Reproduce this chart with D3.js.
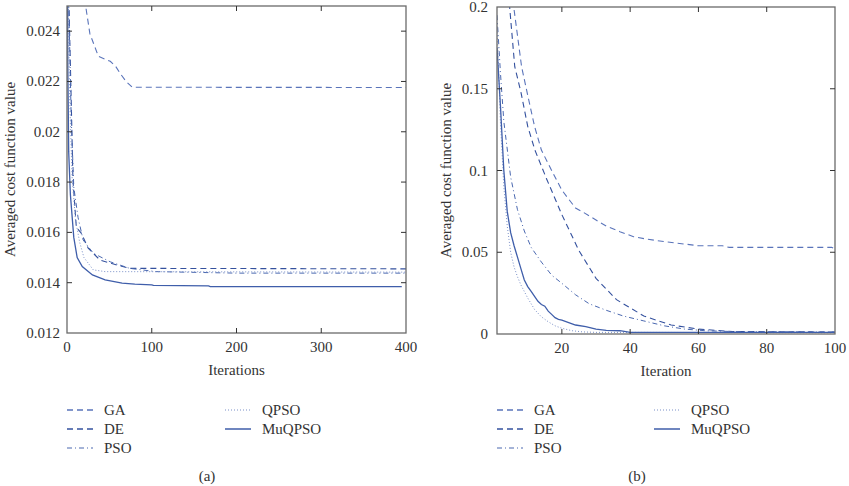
<!DOCTYPE html>
<html>
<head>
<meta charset="utf-8">
<script src="https://cdn.jsdelivr.net/npm/d3@7"></script>
<style>
  html, body { margin: 0; padding: 0; background: #fff; }
  svg text { font-family: "Liberation Serif", "DejaVu Serif", serif; fill: #333; }
</style>
</head>
<body>
<svg id="chart" width="849" height="486"></svg>
<script>
/* ── Data: [iteration, averaged cost] ─────────────────────────────────────── */

// panel (a): 400 iterations
const gaA = [[0, 0.034], [10, 0.029], [22, 0.0250], [27, 0.0239], [37, 0.0230], [51, 0.02280],
  [57, 0.02262], [64, 0.02226], [70, 0.02199], [77, 0.02177], [400, 0.02176]];
const deA = [[0, 0.032], [2, 0.0255], [5, 0.0212], [7, 0.0181], [11, 0.0162], [17, 0.01596],
  [25, 0.01537], [39, 0.0149], [59, 0.0147], [74, 0.01457], [400, 0.01455]];
const psoA = [[0, 0.031], [2, 0.0252], [5, 0.0205], [8, 0.0178], [13, 0.0166], [19, 0.0157],
  [31, 0.01517], [51, 0.01483], [74, 0.01457], [105, 0.01444], [200, 0.01438], [400, 0.01438]];
const qpsoA = [[0, 0.030], [3, 0.0215], [6, 0.0182], [10, 0.0165], [15, 0.0156], [20, 0.0150],
  [31, 0.01451], [45, 0.01444], [400, 0.01442]];
const muqpsoA = [[0, 0.032], [1, 0.0225], [2, 0.0192], [4, 0.0175], [8, 0.0158], [12, 0.0150],
  [18, 0.01464], [30, 0.01431], [45, 0.01411], [65, 0.01398], [80, 0.01394], [100, 0.01391],
  [102, 0.01389], [167, 0.01387], [169, 0.01384], [395, 0.01384]];

// panel (b): 100 iterations
const gaB = [[1, 0.32], [3, 0.25], [5.9, 0.2], [8.2, 0.1635], [10, 0.146], [12, 0.127], [14, 0.1125],
  [17, 0.1], [20, 0.088], [24, 0.077], [26, 0.0748], [30, 0.0697], [33, 0.066], [37, 0.0626],
  [41, 0.0595], [45, 0.058], [50, 0.0565], [56, 0.055], [60, 0.054], [67, 0.054], [69, 0.053],
  [99, 0.053], [100, 0.052]];
const deB = [[1, 0.3], [3, 0.235], [4.7, 0.2], [6.2, 0.1635], [8, 0.148], [10, 0.127], [12.1, 0.1125],
  [15.5, 0.095], [20, 0.073], [25, 0.051], [30, 0.034], [36, 0.021], [44, 0.011], [52, 0.0055],
  [60, 0.003], [70, 0.0015], [100, 0.0012]];
const psoB = [[1, 0.195], [2, 0.16], [3, 0.13], [5, 0.096], [7, 0.076], [9, 0.063], [11, 0.053],
  [14, 0.044], [17, 0.036], [20, 0.031], [24, 0.024], [28, 0.0185], [33, 0.0145], [38, 0.011],
  [44, 0.008], [50, 0.005], [56, 0.003], [62, 0.002], [70, 0.0015], [100, 0.0012]];
const qpsoB = [[1, 0.19], [2, 0.13], [3, 0.09], [4, 0.066], [5, 0.05], [6, 0.041], [7, 0.035],
  [8, 0.03], [9, 0.026], [10, 0.022], [12, 0.015], [14, 0.0105], [16, 0.0075], [18, 0.005],
  [20, 0.0035], [23, 0.002], [26, 0.0013], [30, 0.001], [100, 0.0008]];
const muqpsoB = [[1, 0.175], [2, 0.14], [3, 0.1], [4, 0.075], [5, 0.062], [6, 0.054], [7, 0.047],
  [8, 0.04], [9, 0.033], [10, 0.029], [11, 0.026], [12, 0.023], [13, 0.02], [14, 0.018],
  [15, 0.017], [16, 0.014], [17, 0.012], [18, 0.01], [19, 0.009], [20, 0.0085], [22, 0.007],
  [24, 0.0055], [27, 0.0045], [30, 0.003], [33, 0.0022], [37, 0.002], [40, 0.001], [100, 0.001]];

const xTicksA = [0, 100, 200, 300, 400];
const yTicksA = [0.012, 0.014, 0.016, 0.018, 0.02, 0.022, 0.024];
const xTicksB = [20, 40, 60, 80, 100];
const yTicksB = [0, 0.05, 0.1, 0.15, 0.2];

const NAMES = ["GA", "DE", "PSO", "QPSO", "MuQPSO"];

/* ── Styles ───────────────────────────────────────────────────────────────── */

const STYLE = {
  GA:     { color: "#5a74ba", dash: "6,4",      width: 1.1 },
  DE:     { color: "#34519e", dash: "6,4",      width: 1.1 },
  PSO:    { color: "#4a68b0", dash: "5,3,1,3",  width: 1.0 },
  QPSO:   { color: "#7a90c8", dash: "1,2",      width: 1.0 },
  MuQPSO: { color: "#3f5eaa", dash: null,       width: 1.3 },
};

const svg = d3.select("#chart");

/* ── Panel ────────────────────────────────────────────────────────────────── */

function drawPanel(p) {
  const x = d3.scaleLinear().domain(p.xDomain).range([p.left, p.right]);
  const y = d3.scaleLinear().domain(p.yDomain).range([p.bottom, p.top]);
  const g = svg.append("g");
  const fmt = (v) => String(+v.toFixed(4));

  g.append("clipPath").attr("id", p.id + "-clip")
    .append("rect")
    .attr("x", p.left).attr("y", p.top)
    .attr("width", p.right - p.left).attr("height", p.bottom - p.top);

  // lines
  const line = d3.line().x((d) => x(d[0])).y((d) => y(d[1]));
  const lines = g.append("g").attr("clip-path", `url(#${p.id}-clip)`);
  p.series.forEach((s, i) => {
    const st = STYLE[NAMES[i]];
    lines.append("path")
      .attr("d", line(s))
      .attr("fill", "none")
      .attr("stroke", st.color)
      .attr("stroke-width", st.width)
      .attr("stroke-dasharray", st.dash);
  });

  // frame
  g.append("rect")
    .attr("x", p.left).attr("y", p.top)
    .attr("width", p.right - p.left).attr("height", p.bottom - p.top)
    .attr("fill", "none").attr("stroke", "#6a6a6a").attr("stroke-width", 1.3);

  // ticks on all four sides, pointing in
  const tk = 5;
  p.xTicks.forEach((v) => {
    const xx = x(v);
    if (xx <= p.left + 1 || xx >= p.right - 1) return;
    g.append("line").attr("x1", xx).attr("x2", xx).attr("y1", p.bottom).attr("y2", p.bottom - tk)
      .attr("stroke", "#333");
    g.append("line").attr("x1", xx).attr("x2", xx).attr("y1", p.top).attr("y2", p.top + tk)
      .attr("stroke", "#333");
  });
  p.yTicks.forEach((v) => {
    const yy = y(v);
    if (yy <= p.top + 1 || yy >= p.bottom - 1) return;
    g.append("line").attr("x1", p.left).attr("x2", p.left + tk).attr("y1", yy).attr("y2", yy)
      .attr("stroke", "#333");
    g.append("line").attr("x1", p.right).attr("x2", p.right - tk).attr("y1", yy).attr("y2", yy)
      .attr("stroke", "#333");
  });

  // tick labels
  p.xTicks.forEach((v) => {
    g.append("text").attr("x", x(v)).attr("y", p.bottom + 19)
      .attr("text-anchor", "middle").attr("font-size", 15).text(fmt(v));
  });
  p.yTicks.forEach((v) => {
    g.append("text").attr("x", p.left - p.yLabelGap).attr("y", y(v) + 5)
      .attr("text-anchor", "end").attr("font-size", 15).text(fmt(v));
  });

  // axis titles
  g.append("text").attr("x", (p.left + p.right) / 2).attr("y", p.bottom + 42)
    .attr("text-anchor", "middle").attr("font-size", 15).text(p.xTitle);
  g.append("text")
    .attr("transform", `translate(${p.yTitleX},${(p.top + p.bottom) / 2}) rotate(-90)`)
    .attr("text-anchor", "middle").attr("font-size", 15).text("Averaged cost function value");

  // legend
  const rows = [[0, 0], [0, 1], [0, 2], [1, 0], [1, 1]];
  NAMES.forEach((n, i) => {
    const [col, row] = rows[i];
    const lx = p.legendX[col];
    const ly = 410 + row * 19;
    const st = STYLE[n];
    g.append("line").attr("x1", lx).attr("x2", lx + 26).attr("y1", ly).attr("y2", ly)
      .attr("stroke", st.color).attr("stroke-width", st.width + 0.2)
      .attr("stroke-dasharray", st.dash);
    g.append("text").attr("x", lx + 37).attr("y", ly + 5).attr("font-size", 15).text(n);
  });

  g.append("text").attr("x", p.captionX).attr("y", 481)
    .attr("text-anchor", "middle").attr("font-size", 15).text(p.caption);
}

drawPanel({
  id: "pa", left: 67, right: 406, top: 6, bottom: 333,
  xDomain: [0, 400], yDomain: [0.012, 0.025],
  xTicks: xTicksA, yTicks: yTicksA, yLabelGap: 7,
  series: [gaA, deA, psoA, qpsoA, muqpsoA],
  xTitle: "Iterations", yTitleX: 15,
  legendX: [67, 225], caption: "(a)", captionX: 207,
});

drawPanel({
  id: "pb", left: 497, right: 835, top: 7, bottom: 334,
  xDomain: [1, 100], yDomain: [0, 0.2],
  xTicks: xTicksB, yTicks: yTicksB, yLabelGap: 9,
  series: [gaB, deB, psoB, qpsoB, muqpsoB],
  xTitle: "Iteration", yTitleX: 451,
  legendX: [497, 654], caption: "(b)", captionX: 637,
});
</script>
</body>
</html>
